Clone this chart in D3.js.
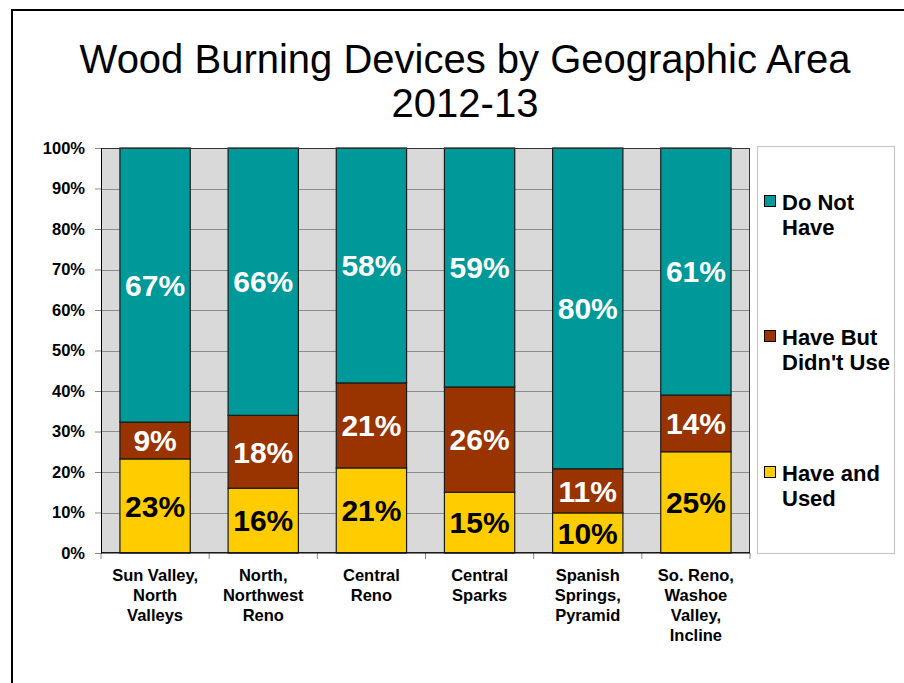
<!DOCTYPE html>
<html><head><meta charset="utf-8">
<script src="https://cdn.jsdelivr.net/npm/d3@7"></script>
<style>body{margin:0;background:#fff;}svg{display:block;font-family:"Liberation Sans",Arial,sans-serif;}</style>
</head><body>
<svg id="c" width="904" height="683"></svg>
<script>
const categories = [
  ["Sun Valley,","North","Valleys"],
  ["North,","Northwest","Reno"],
  ["Central","Reno"],
  ["Central","Sparks"],
  ["Spanish","Springs,","Pyramid"],
  ["So. Reno,","Washoe","Valley,","Incline"]
];
const haveAndUsed   = [23, 16, 21, 15, 10, 25];
const haveButDidnt  = [9, 18, 21, 26, 11, 14];
const doNotHave     = [67, 66, 58, 59, 80, 61];
const seriesNames = ["Have and Used", "Have But Didn't Use", "Do Not Have"];
const seriesColors = ["#FFCC00", "#993300", "#009999"];
const labelColors = ["#000", "#fff", "#fff"];
const legendLines = [["Do Not","Have"],["Have But","Didn't Use"],["Have and","Used"]];
const yTicks = [0,0.1,0.2,0.3,0.4,0.5,0.6,0.7,0.8,0.9,1];
const titleLines = ["Wood Burning Devices by Geographic Area","2012-13"];

const svg = d3.select("#c");
// outer frame
svg.append("line").attr("x1",12).attr("y1",10).attr("x2",904).attr("y2",10).attr("stroke","#000").attr("stroke-width",2);
svg.append("line").attr("x1",12).attr("y1",9).attr("x2",12).attr("y2",683).attr("stroke","#000").attr("stroke-width",2);

// title
svg.selectAll("text.title").data(titleLines).join("text")
  .attr("x",465).attr("y",(d,i)=>73+i*44).attr("text-anchor","middle")
  .attr("font-size",40).attr("fill","#000").text(d=>d);

const L=101, R=750, T=148, B=553;
const idx = d3.range(categories.length);
const x = d3.scaleBand().domain(idx).range([L,R]).paddingInner(0.35).paddingOuter(0.175);
const y = d3.scaleLinear().domain([0,1]).range([B,T]);

const rows = idx.map(i=>({i, a:haveAndUsed[i], b:haveButDidnt[i], c:doNotHave[i]}));
const stack = d3.stack().keys(["a","b","c"]).offset(d3.stackOffsetExpand);
const series = stack(rows);

// plot bg
svg.append("rect").attr("x",L).attr("y",T).attr("width",R-L).attr("height",B-T).attr("fill","#D9D9D9");
// grid
svg.append("g").selectAll("line").data(yTicks.slice(1,-1)).join("line")
  .attr("x1",L).attr("x2",R).attr("y1",d=>Math.round(y(d))+0.5).attr("y2",d=>Math.round(y(d))+0.5)
  .attr("stroke","#8c8c8c").attr("stroke-width",1);

// bars
const g = svg.append("g");
series.forEach((s,k)=>{
  g.selectAll(null).data(s).join("rect")
    .attr("x",d=>x(d.data.i)).attr("width",x.bandwidth())
    .attr("y",d=>y(d[1])).attr("height",d=>y(d[0])-y(d[1]))
    .attr("fill",seriesColors[k]).attr("stroke","#1a1a1a").attr("stroke-width",1.2);
});
// labels
series.forEach((s,k)=>{
  g.selectAll(null).data(s).join("text")
    .attr("x",d=>x(d.data.i)+x.bandwidth()/2)
    .attr("y",d=>(y(d[0])+y(d[1]))/2)
    .attr("dy","0.36em").attr("text-anchor","middle")
    .attr("font-size",30).attr("font-weight","bold").attr("fill",labelColors[k])
    .text(d=>d.data[["a","b","c"][k]]+"%");
});

// plot border
svg.append("rect").attr("x",L+0.5).attr("y",T+0.5).attr("width",R-L-1).attr("height",B-T-1)
  .attr("fill","none").attr("stroke","#333").attr("stroke-width",1);

// y axis
const yAxis = d3.axisLeft(y).tickValues(yTicks).tickFormat(d3.format(".0%")).tickSize(6).tickPadding(10);
const ya = svg.append("g").attr("transform",`translate(${L},0)`).call(yAxis);
ya.select(".domain").attr("stroke","#000");
ya.selectAll(".tick line").attr("stroke","#888");
ya.selectAll("text").attr("font-size",16.5).attr("font-weight","bold").attr("fill","#000").attr("font-family","'Liberation Sans',Arial,sans-serif");

// x axis ticks at boundaries
const bounds = d3.range(categories.length+1).map(i=>L+i*x.step());
svg.append("g").selectAll("line").data(bounds).join("line")
  .attr("x1",d=>d).attr("x2",d=>d).attr("y1",B).attr("y2",B+6).attr("stroke","#888");
svg.append("line").attr("x1",L).attr("x2",R).attr("y1",B).attr("y2",B).attr("stroke","#000");

// x labels
const xl = svg.append("g");
categories.forEach((lines,i)=>{
  xl.append("text").attr("x",x(i)+x.bandwidth()/2).attr("y",581).attr("text-anchor","middle")
    .attr("font-size",16.5).attr("font-weight","bold").attr("fill","#000")
    .selectAll("tspan").data(lines).join("tspan")
    .attr("x",x(i)+x.bandwidth()/2).attr("dy",(d,j)=>j===0?0:20).text(d=>d);
});

// legend
svg.append("rect").attr("x",757.5).attr("y",146.5).attr("width",137).attr("height",407)
  .attr("fill","#fff").attr("stroke","#c8c8c8").attr("stroke-width",1.2);
const legOrder = [2,1,0];
const legY = [210, 345, 481];
legOrder.forEach((k,j)=>{
  svg.append("rect").attr("x",764.5).attr("y",legY[j]-14.5).attr("width",11).attr("height",11)
    .attr("fill",seriesColors[k]).attr("stroke","#000").attr("stroke-width",1);
  svg.append("text").attr("x",782).attr("y",legY[j]).attr("font-size",22).attr("font-weight","bold").attr("fill","#000")
    .selectAll("tspan").data(legendLines[j]).join("tspan")
    .attr("x",782).attr("dy",(d,i)=>i===0?0:25).text(d=>d);
});
</script>
</body></html>
